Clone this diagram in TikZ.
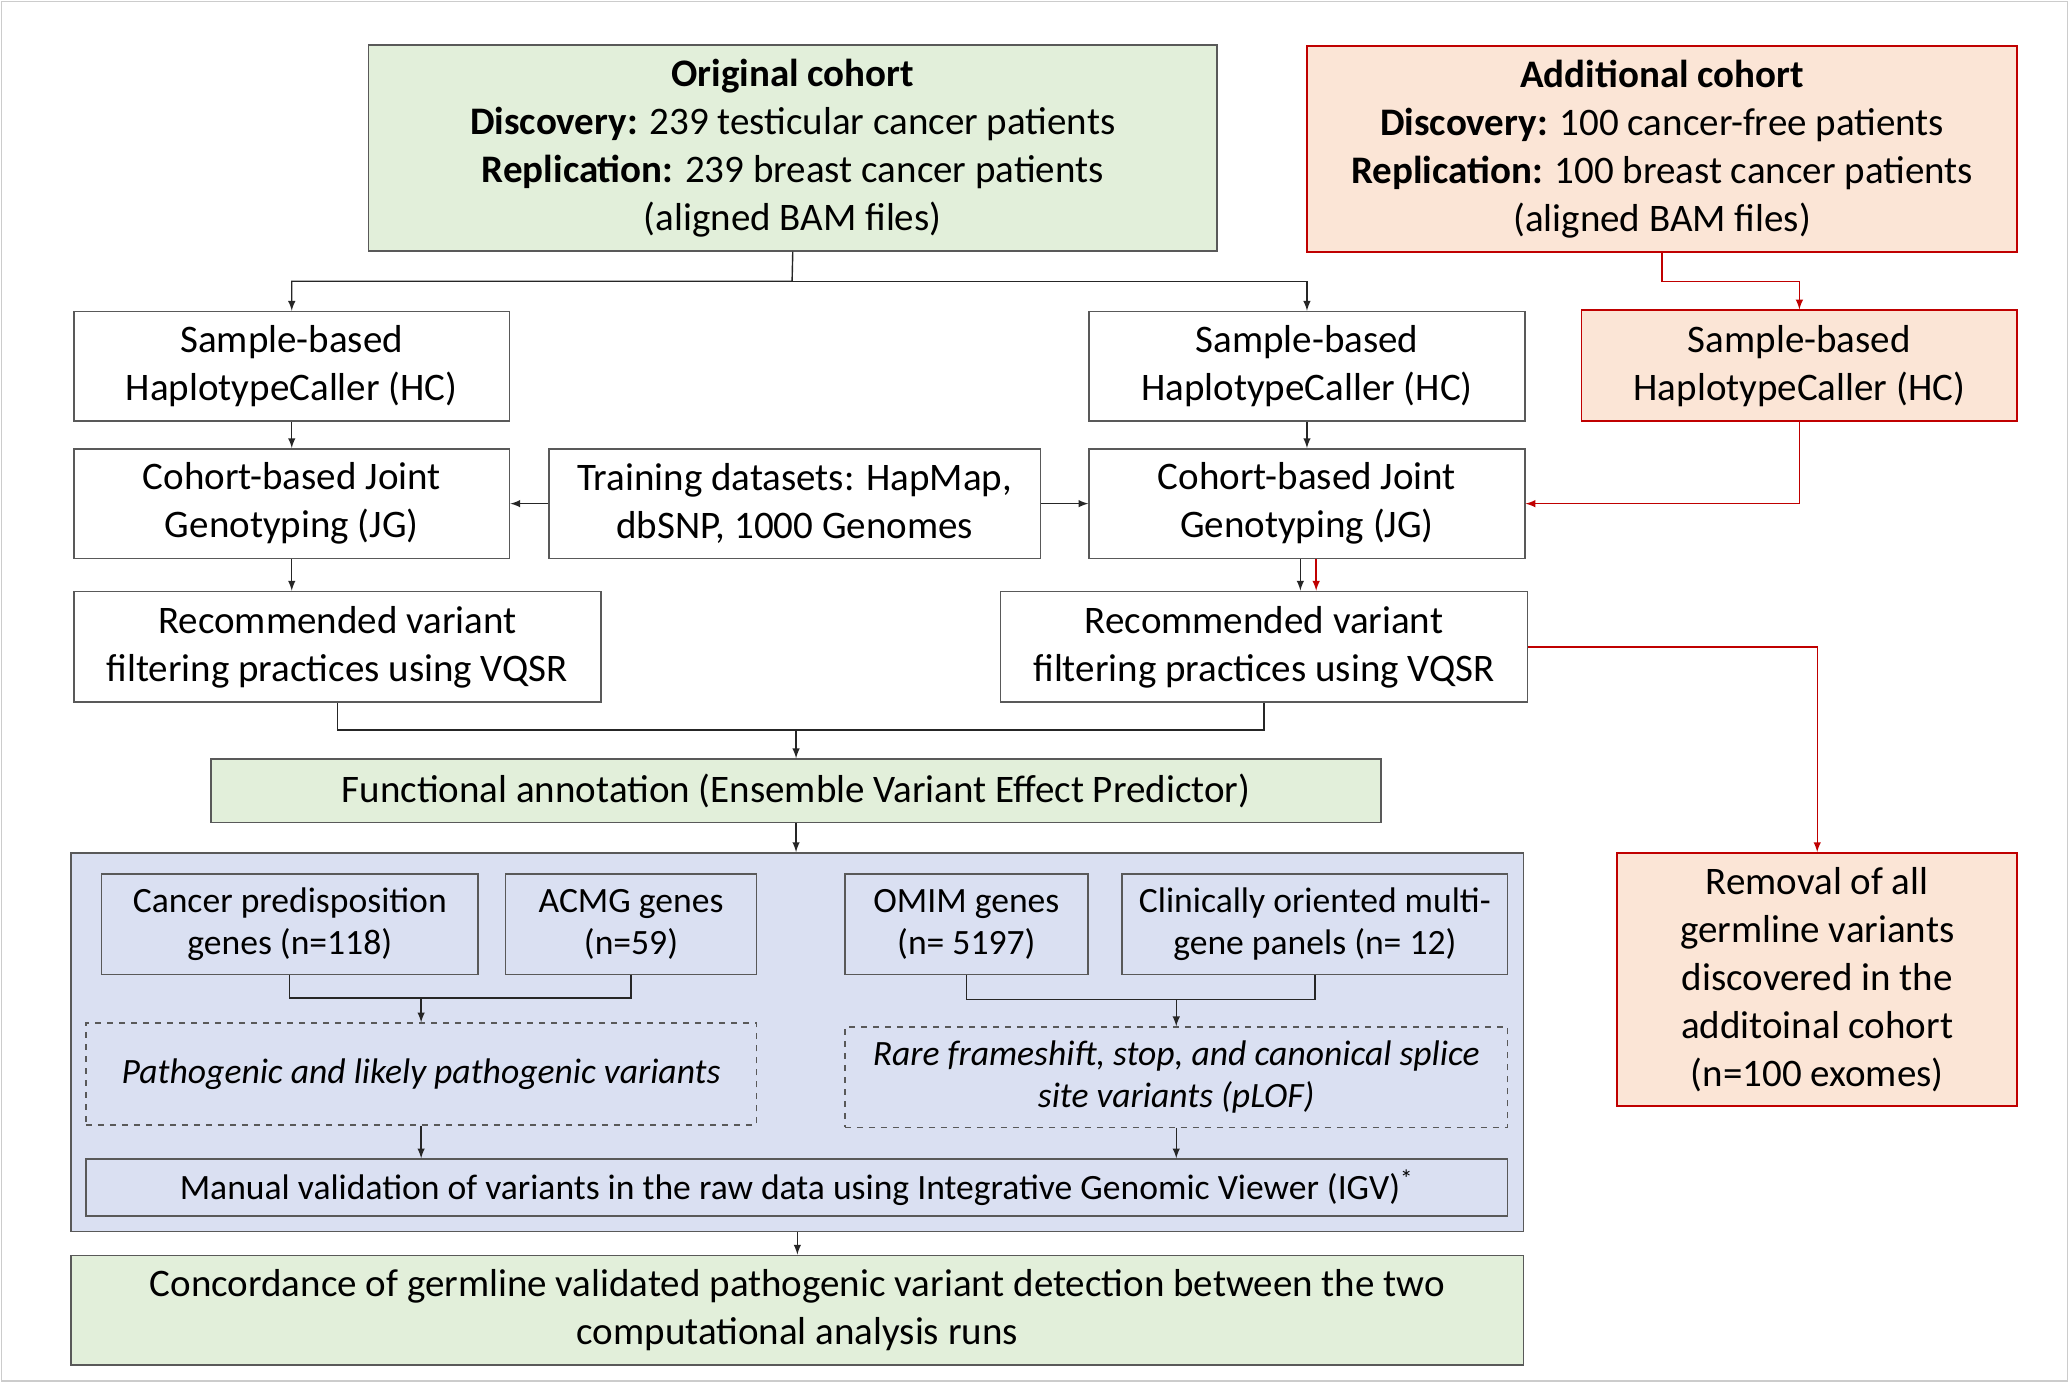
\documentclass[tikz,border=0pt]{standalone}
\usepackage{fontspec}
\setmainfont{Carlito}
\usetikzlibrary{arrows,shapes,positioning}
\definecolor{boxgreen}{HTML}{E2EFDA}
\definecolor{boxpeach}{HTML}{FBE5D6}
\definecolor{boxred}{HTML}{C00000}
\definecolor{boxblue}{HTML}{DAE0F2}
\definecolor{edgegray}{HTML}{595959}
\tikzset{
    basic/.style      = {draw=edgegray, line width=0.8pt, rectangle, align=center, inner sep=2pt, font=\fontsize{19.5}{24}\selectfont},
    plain box/.style  = {basic, fill=white},
    green box/.style  = {basic, fill=boxgreen},
    peach box/.style  = {basic, draw=boxred, fill=boxpeach},
    panel box/.style  = {basic, fill=boxblue},
    gene box/.style   = {basic, font=\fontsize{17.8}{20.8}\selectfont},
    variant box/.style = {gene box, dashed, font=\fontsize{17.8}{20.8}\selectfont\itshape},
    link/.style       = {draw=black!85, line width=0.7pt},
    red link/.style   = {draw=boxred, line width=0.7pt}
}

\begin{document}
\begin{tikzpicture}[x=0.6601pt, y=-0.6601pt, >=latex]
    \useasboundingbox (0,0) rectangle (1568,1048);
    \draw[black!20, line width=0.8pt] (1,1) rectangle (1566,1046);

    % cohorts
    \node[green box, minimum width=424.4pt, minimum height=103pt] (orig) at (600.5,112)
        {\textbf{Original cohort}\\\textbf{Discovery:} 239 testicular cancer patients\\\textbf{Replication:} 239 breast cancer patients\\(aligned BAM files)};
    \node[peach box, minimum width=355.1pt, minimum height=103pt] (addl) at (1259,113)
        {\textbf{Additional cohort}\\\textbf{Discovery:} 100 cancer-free patients\\\textbf{Replication:} 100 breast cancer patients\\(aligned BAM files)};

    % calling
    \node[plain box, minimum width=217.8pt, minimum height=54.8pt] (hcL) at (221,277.5) {Sample-based\\HaplotypeCaller (HC)};
    \node[plain box, minimum width=217.8pt, minimum height=54.8pt] (hcR) at (990,277.5) {Sample-based\\HaplotypeCaller (HC)};
    \node[peach box, minimum width=217.8pt, minimum height=55.4pt] (hcA) at (1363,277) {Sample-based\\HaplotypeCaller (HC)};
    \node[plain box, minimum width=217.8pt, minimum height=54.8pt] (jgL) at (221,381.5) {Cohort-based Joint\\Genotyping (JG)};
    \node[plain box, minimum width=245.6pt, minimum height=54.8pt] (train) at (602,381.5) {Training datasets: HapMap,\\dbSNP, 1000 Genomes};
    \node[plain box, minimum width=217.8pt, minimum height=54.8pt] (jgR) at (990,381.5) {Cohort-based Joint\\Genotyping (JG)};
    \node[plain box, minimum width=263.4pt, minimum height=55.4pt] (vqL) at (255.5,490) {Recommended variant\\filtering practices using VQSR};
    \node[plain box, minimum width=263.4pt, minimum height=55.4pt] (vqR) at (957.5,490) {Recommended variant\\filtering practices using VQSR};
    \node[peach box, minimum width=200pt, minimum height=126.7pt] (removal) at (1376.5,742)
        {Removal of all\\germline variants\\discovered in the\\additoinal cohort\\(n=100 exomes)};

    % annotation and panels
    \node[green box, minimum width=584.9pt, minimum height=31.7pt] (func) at (603,599) {Functional annotation (Ensemble Variant Effect Predictor)};
    \node[panel box, minimum width=726.1pt, minimum height=189.4pt] (panel) at (604,789.5) {};
    \node[gene box, minimum width=188.1pt, minimum height=50.2pt] (cancer) at (219.5,700) {Cancer predisposition\\genes (n=118)};
    \node[gene box, minimum width=125.4pt, minimum height=50.2pt] (acmg) at (478,700) {ACMG genes\\(n=59)};
    \node[gene box, minimum width=121.5pt, minimum height=50.2pt] (omim) at (732,700) {OMIM genes\\(n= 5197)};
    \node[gene box, minimum width=192.8pt, minimum height=50.2pt] (clinic) at (996,700) {Clinically oriented multi-\\gene panels (n= 12)};
    \node[variant box, minimum width=335.3pt, minimum height=50.8pt] (pathL) at (319,813.5) {Pathogenic and likely pathogenic variants};
    \node[variant box, minimum width=331.4pt, minimum height=50.2pt] (pathR) at (891,816) {Rare frameshift, stop, and canonical splice\\site variants (pLOF)};
    \node[gene box, minimum width=710.9pt, minimum height=28.4pt] (manual) at (603.5,899.5)
        {Manual validation of variants in the raw data using Integrative Genomic Viewer (IGV)\textsuperscript{*}};
    \node[green box, minimum width=726.1pt, minimum height=54.8pt] (concord) at (604,992.5)
        {Concordance of germline validated pathogenic variant detection between the two\\computational analysis runs};

    % junctions
    \coordinate (split1) at (600,213);
    \coordinate (split2) at (1259,213);
    \coordinate (merge1) at (603,553);
    \coordinate (merge2) at (319,756);
    \coordinate (merge3) at (891,757);

    % connectors
    \draw[link, ->] (orig.south) -- (split1) -| (hcL.north);
    \draw[link, ->] (split1) -| (hcR.north);
    \draw[red link, ->] (addl.south) -- (split2) -| (hcA.north);
    \draw[link, ->] (hcL.south) -- (jgL.north);
    \draw[link, ->] (hcR.south) -- (jgR.north);
    \draw[red link, ->] (hcA.south) |- (jgR.east);
    \draw[link, ->] (train.west) -- (jgL.east);
    \draw[link, ->] (train.east) -- (jgR.west);
    \draw[link, ->] (jgL.south) -- (jgL.south |- vqL.north);
    \draw[link, ->] ([xshift=-3.3pt]jgR.south) -- ([xshift=-3.3pt]jgR.south |- vqR.north);
    \draw[red link, ->] ([xshift=4.6pt]jgR.south) -- ([xshift=4.6pt]jgR.south |- vqR.north);
    \draw[red link, ->] (vqR.east) -| (removal.north);
    \draw[link] (vqL.south) |- (merge1) -| (vqR.south);
    \draw[link, ->] (merge1) -- (func.north);
    \draw[link, ->] (func.south) -- (func.south |- panel.north);
    \draw[link] (cancer.south) |- (merge2) -| (acmg.south);
    \draw[link, ->] (merge2) -- (pathL.north);
    \draw[link] (omim.south) |- (merge3) -| (clinic.south);
    \draw[link, ->] (merge3) -- (pathR.north);
    \draw[link, ->] (pathL.south) -- (pathL.south |- manual.north);
    \draw[link, ->] (pathR.south) -- (pathR.south |- manual.north);
    \draw[link, ->] (panel.south) -- (panel.south |- concord.north);
\end{tikzpicture}
\end{document}
